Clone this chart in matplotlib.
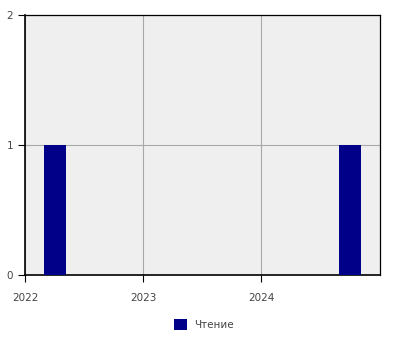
import datetime as dt

import matplotlib
matplotlib.use('Agg')
import matplotlib.dates as mdates
import matplotlib.pyplot as plt

# данные
dates = [dt.date(2022, 4, 4), dt.date(2024, 9, 30)]
counts = [1, 1]
label = 'Чтение'
year_ticks = [2022, 2023, 2024]

plt.rcParams['font.family'] = ['DejaVu Sans']

fig = plt.figure(figsize=(4, 3.5), dpi=100)
ax = fig.add_axes([0.0625, 0.214, 0.8875, 0.743])
ax.set_facecolor('#efefef')

ax.bar(dates, counts, width=66, color='#000088', label=label, zorder=3)

ax.set_xlim(dt.date(2022, 1, 1), dt.date(2025, 1, 1))
ax.set_ylim(0, 2)
ax.set_yticks([0, 1, 2])
ax.set_xticks([dt.date(y, 1, 1) for y in year_ticks])
ax.xaxis.set_major_formatter(mdates.DateFormatter('%Y'))

ax.grid(True, color='#a8a8a8', linewidth=0.8, zorder=0)
ax.tick_params(labelsize=7.5, labelcolor='#444444', length=5, width=0.8, direction='out')
ax.tick_params(axis='x', pad=8)
for side in ['left', 'bottom']:
    ax.spines[side].set_linewidth(1.2)
for side in ['top', 'right']:
    ax.spines[side].set_linewidth(0.9)

fig.legend(loc='lower center', bbox_to_anchor=(0.51, 0.03), frameon=False,
           fontsize=7.5, handlelength=1.2, handleheight=1.2, handletextpad=0.7,
           labelcolor='#444444')

plt.savefig('out.png', dpi=100)
